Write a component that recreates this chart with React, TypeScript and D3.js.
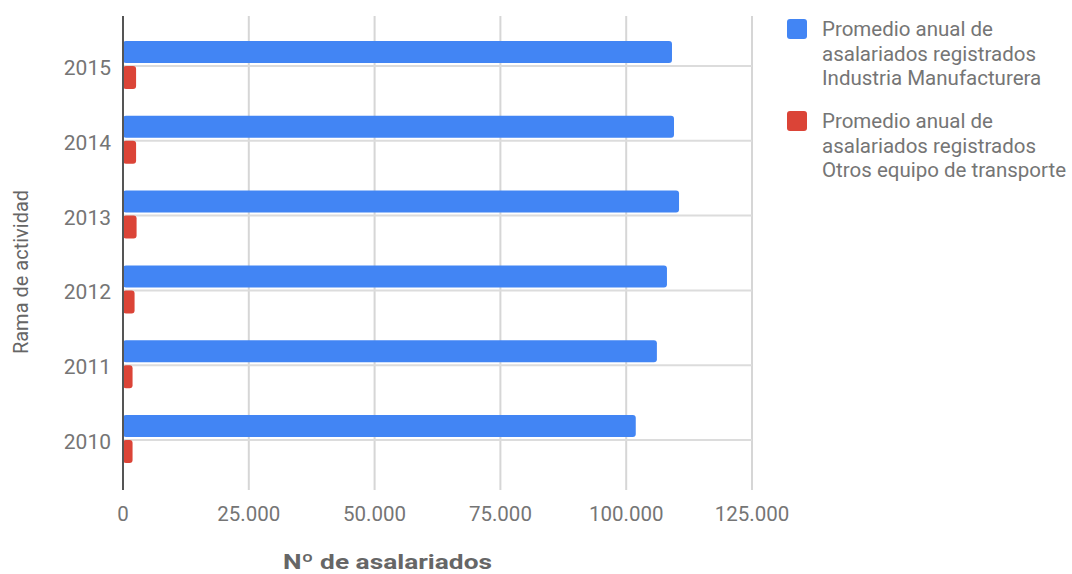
import React from "react";
import * as d3 from "d3";

const years = ["2015", "2014", "2013", "2012", "2011", "2010"];
const manufactura = [109100, 109500, 110500, 108100, 106100, 101900];
const transporte = [2600, 2600, 2700, 2300, 1900, 1900];
const xTicks = [0, 25000, 50000, 75000, 100000, 125000];
const legendLabels = [
  ["Promedio anual de", "asalariados registrados", "Industria Manufacturera"],
  ["Promedio anual de", "asalariados registrados", "Otros equipo de transporte"],
];
const colors = ["#4285F4", "#DB4437"];

export default function App() {
  const W = 1072, H = 574;
  const x = d3.scaleLinear().domain([0, 125000]).range([123, 752]);
  const y = d3.scaleBand().domain(years).range([28.6, 477.4]);
  const fmt = (v: number) => d3.format(",")(v).replace(/,/g, ".");
  const font = "Roboto, 'Noto Sans', sans-serif";
  return (
    <svg width={W} height={H} style={{ position: "absolute", left: 0, top: 0, background: "#fff" }}>
      {/* vertical grid */}
      {xTicks.slice(1).map((t) => (
        <line key={t} x1={x(t)} x2={x(t)} y1={16} y2={490} stroke="#d6d6d6" strokeWidth={2} />
      ))}
      {/* horizontal grid at category centers */}
      {years.map((yr) => {
        const c = (y(yr) as number) + y.bandwidth() / 2;
        return <line key={yr} x1={123} x2={752} y1={c} y2={c} stroke="#dcdcdc" strokeWidth={2} />;
      })}
      {/* bars */}
      {years.map((yr, i) => {
        const c = (y(yr) as number) + y.bandwidth() / 2;
        return (
          <g key={yr}>
            <rect x={x(0)} y={c - 25} width={x(manufactura[i]) - x(0)} height={22} rx={3} fill={colors[0]} />
            <rect x={x(0)} y={c} width={x(transporte[i]) - x(0)} height={23} rx={3} fill={colors[1]} />
          </g>
        );
      })}
      {/* axis line */}
      <line x1={123} x2={123} y1={16} y2={490} stroke="#555" strokeWidth={2} />
      {/* x tick labels */}
      {xTicks.map((t) => (
        <text key={t} x={x(t)} y={521} textAnchor="middle" fontFamily={font} fontSize={20.5} fill="#757575">
          {fmt(t)}
        </text>
      ))}
      {/* y tick labels */}
      {years.map((yr) => {
        const c = (y(yr) as number) + y.bandwidth() / 2;
        return (
          <text key={yr} x={111} y={c + 9} textAnchor="end" fontFamily={font} fontSize={21} fill="#757575">
            {yr}
          </text>
        );
      })}
      {/* axis titles */}
      <text
        transform="translate(28,272) rotate(-90)"
        textAnchor="middle"
        fontFamily={font}
        fontSize={20}
        fill="#666"
      >
        Rama de actividad
      </text>
      <text
        x={387.5}
        y={569}
        textAnchor="middle"
        fontFamily={font}
        fontWeight="bold"
        fontSize={21}
        textLength={209}
        lengthAdjust="spacingAndGlyphs"
        fill="#666"
      >
        Nº de asalariados
      </text>
      {/* legend */}
      {legendLabels.map((lines, i) => (
        <g key={i}>
          <rect x={787} y={19 + i * 92} width={20} height={20} rx={3} fill={colors[i]} />
          {lines.map((l, j) => (
            <text key={j} x={822} y={36 + i * 92 + j * 24.5} fontFamily={font} fontSize={20.5} fill="#757575">
              {l}
            </text>
          ))}
        </g>
      ))}
    </svg>
  );
}
